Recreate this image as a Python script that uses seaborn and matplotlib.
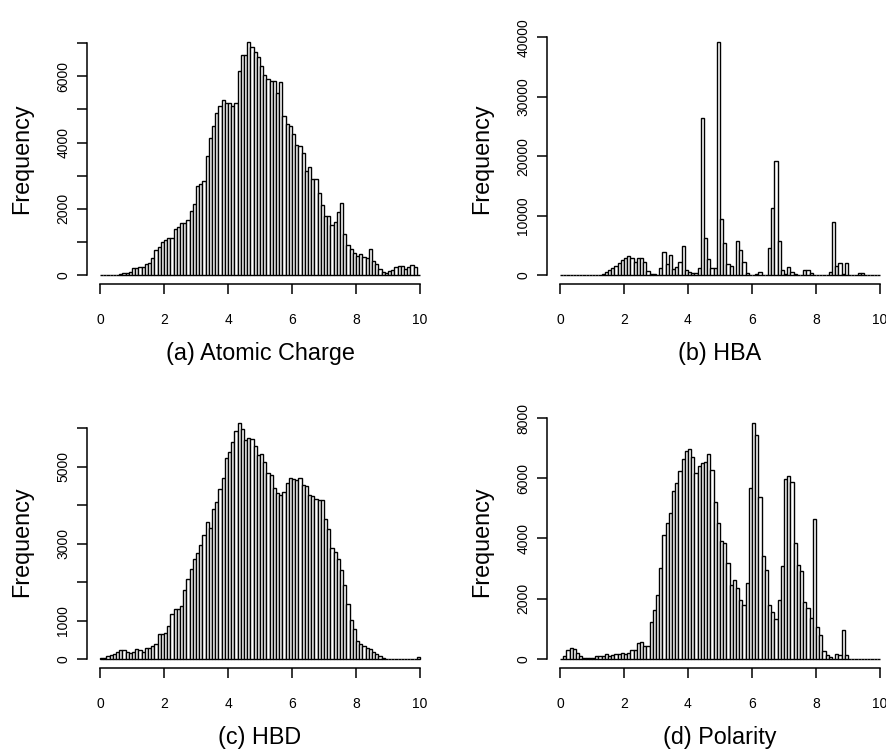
import matplotlib
matplotlib.use("Agg")
import matplotlib.pyplot as plt
import numpy as np
import pandas as pd
import seaborn as sns

# histogram counts, 100 bins of width 0.1 on [0, 10]
atomic_charge = [
    0, 0, 0, 0, 0, 0, 20, 50, 60, 100,
    200, 220, 250, 250, 320, 350, 500, 750, 850, 1000,
    1050, 1130, 1130, 1400, 1450, 1580, 1580, 1650, 1930, 2150,
    2700, 2750, 2850, 3600, 4150, 4500, 4900, 5100, 5300, 5200,
    5200, 5100, 5200, 6150, 6650, 6650, 7050, 6900, 6750, 6600,
    6300, 6050, 5920, 5850, 5850, 5500, 5820, 4800, 4550, 4500,
    4250, 3930, 3900, 3700, 3150, 3250, 2900, 2900, 2480, 2120,
    1770, 1770, 1520, 1590, 1900, 2180, 1230, 900, 770, 650,
    580, 620, 530, 520, 770, 430, 330, 180, 100, 60,
    110, 150, 240, 260, 260, 180, 230, 300, 250, 0,
]
hba = [
    0, 0, 0, 0, 0, 0, 0, 0, 0, 0,
    0, 0, 0, 200, 560, 840, 1230, 1510, 1950, 2570,
    2790, 3120, 2900, 2230, 2790, 2790, 2180, 670, 200, 200,
    0, 1230, 3900, 1900, 3350, 950, 1340, 2230, 4800, 780,
    560, 330, 330, 1230, 26440, 6250, 2620, 1230, 1120, 39270,
    9430, 5410, 1790, 1510, 0, 5800, 4180, 2180, 390, 0,
    0, 220, 560, 0, 0, 4570, 11270, 19190, 5690, 780,
    220, 1340, 560, 110, 0, 0, 780, 780, 390, 0,
    0, 0, 0, 0, 560, 8870, 1510, 1950, 220, 1950,
    0, 0, 0, 330, 330, 0, 0, 0, 0, 0,
]
hbd = [
    20, 35, 70, 100, 140, 170, 230, 230, 190, 165,
    190, 260, 230, 190, 275, 275, 330, 380, 640, 640,
    665, 860, 1165, 1295, 1295, 1380, 1800, 2070, 2330, 2590,
    2760, 2970, 3230, 3560, 3400, 3890, 4090, 4420, 4700, 5220,
    5390, 5650, 5930, 6130, 5980, 5700, 5760, 5730, 5540, 5300,
    5330, 5130, 4830, 4790, 4460, 4320, 4280, 4350, 4570, 4710,
    4680, 4660, 4700, 4530, 4510, 4270, 4250, 4160, 4140, 4140,
    3630, 3380, 2880, 2780, 2590, 2320, 1930, 1420, 1010, 770,
    475, 380, 345, 275, 250, 190, 140, 85, 20, 0,
    0, 0, 0, 0, 0, 0, 0, 0, 0, 50,
]
polarity = [
    0, 110, 310, 375, 330, 200, 90, 30, 30, 30,
    30, 90, 90, 90, 165, 110, 130, 165, 165, 200,
    180, 200, 310, 290, 530, 550, 420, 440, 1220, 1620,
    2140, 3020, 4130, 4500, 4850, 5570, 5850, 6230, 6640, 6900,
    6980, 6690, 6180, 6420, 6510, 6540, 6820, 6270, 5200, 4500,
    3930, 3850, 3170, 2440, 2610, 2360, 1970, 1800, 2520, 5660,
    7820, 7420, 5380, 3410, 2970, 1800, 1550, 1330, 1970, 3080,
    5980, 6090, 5870, 3850, 3130, 2930, 1880, 1690, 1360, 4650,
    1050, 800, 280, 130, 65, 0, 165, 130, 975, 120,
    0, 0, 0, 0, 0, 0, 0, 0, 0, 0,
]

titles = ["(a) Atomic Charge", "(b) HBA", "(c) HBD", "(d) Polarity"]
x_ticks = [0, 2, 4, 6, 8, 10]
y_ticks = [
    [0, 1000, 2000, 3000, 4000, 5000, 6000, 7000],
    [0, 10000, 20000, 30000, 40000],
    [0, 1000, 2000, 3000, 4000, 5000, 6000],
    [0, 2000, 4000, 6000, 8000],
]
# R drops labels that would overlap
y_labels = [
    ["0", "", "2000", "", "4000", "", "6000", ""],
    ["0", "10000", "20000", "30000", "40000"],
    ["0", "1000", "", "3000", "", "5000", ""],
    ["0", "2000", "4000", "6000", "8000"],
]

centers = np.arange(100) * 0.1 + 0.05

sns.set_style("ticks")
plt.rcParams["font.family"] = ["Liberation Sans", "DejaVu Sans"]
for key in ["text.color", "axes.labelcolor", "xtick.color", "ytick.color",
            "axes.edgecolor"]:
    plt.rcParams[key] = "black"

W, H = 886, 749
fig = plt.figure(figsize=(W / 100, H / 100), dpi=100)

# plot regions in pixels (left, top, right, bottom)
boxes = [(87.2, 32.3, 432.8, 284.3), (547.2, 32.3, 892.8, 284.3),
         (87.2, 414, 432.8, 668.4), (547.2, 414, 892.8, 668.4)]

for i, counts in enumerate([atomic_charge, hba, hbd, polarity]):
    df = pd.DataFrame({"value": centers, "count": counts})
    l, t, r, b = boxes[i]
    ax = fig.add_axes([l / W, 1 - b / H, (r - l) / W, (b - t) / H])
    sns.histplot(data=df, x="value", weights="count", bins=100,
                 binrange=(0, 10), color="white", edgecolor="black",
                 linewidth=1.0, alpha=1, ax=ax)
    top = max(counts)
    ax.set_xlim(-0.4, 10.4)
    ax.set_ylim(-0.04 * top, 1.04 * top)
    ax.set_xticks(x_ticks)
    ax.set_yticks(y_ticks[i])
    ax.set_yticklabels(y_labels[i], rotation=90, va="center")
    for s in ["top", "right"]:
        ax.spines[s].set_visible(False)
    ax.spines["bottom"].set_bounds(0, 10)
    ax.spines["left"].set_bounds(0, y_ticks[i][-1])
    for s in ["bottom", "left"]:
        ax.spines[s].set_linewidth(1.1)
    ax.tick_params(axis="both", direction="out", length=7, width=1.1,
                   labelsize=10)
    ax.tick_params(axis="x", pad=13.5)
    ax.tick_params(axis="y", pad=5.2)
    ax.set_xlabel(titles[i], fontsize=16.8, labelpad=11)
    ax.set_ylabel("Frequency", fontsize=16.8, labelpad=16.6)

fig.savefig("out.png", dpi=100)
